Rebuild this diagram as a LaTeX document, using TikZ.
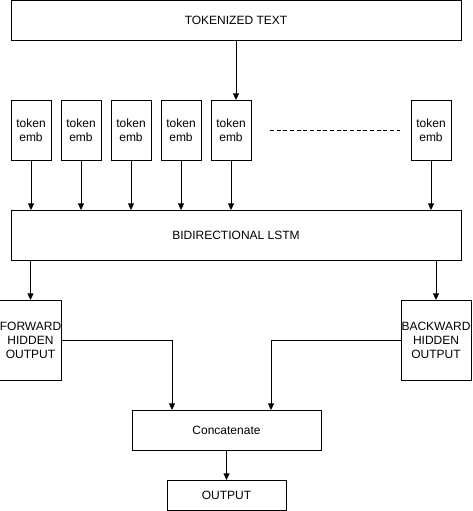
\documentclass[tikz,border=0pt]{standalone}
\usepackage{fontspec}
\setmainfont{Liberation Sans}
\usepackage{tikz}
\usetikzlibrary{positioning,arrows.meta}

\begin{document}
\begin{tikzpicture}[
    x=0.75pt, y=-0.75pt,
    line width=0.75pt,
    font=\fontsize{9}{10.5}\selectfont,
    base/.style = {rectangle, draw=black, inner sep=0pt, outer sep=0pt, align=center},
    wide/.style = {base, minimum width=337.5pt, minimum height=30pt},
    emb/.style = {base, minimum width=30pt, minimum height=45pt},
    hidden/.style = {base, minimum height=60pt},
    flow/.style = {-{Triangle[length=5pt,width=4.5pt]}},
]
    \useasboundingbox (0,0) rectangle (472,511);

    % input
    \node[wide] (tok) at (236,20) {TOKENIZED TEXT};

    % embeddings
    \node[emb] (emb1) at (31,130) {token\\emb};
    \node[emb, right=7.5pt of emb1] (emb2) {token\\emb};
    \node[emb, right=7.5pt of emb2] (emb3) {token\\emb};
    \node[emb, right=7.5pt of emb3] (emb4) {token\\emb};
    \node[emb, right=7.5pt of emb4] (emb5) {token\\emb};
    \node[emb] (embn) at (431,130) {token\\emb};
    \coordinate (dotsl) at (270,130);
    \coordinate (dotsr) at (400,130);
    \draw[dash pattern=on 3pt off 2pt] (dotsl) -- (dotsr);

    % lstm
    \node[wide, minimum height=37.5pt] (lstm) at (236,235) {BIDIRECTIONAL LSTM};

    % hidden outputs
    \node[hidden, minimum width=45.75pt] (fwd) at (30.5,340) {FORWARD\\HIDDEN\\OUTPUT};
    \node[hidden, minimum width=52.5pt] (bwd) at (436,340) {BACKWARD\\HIDDEN\\OUTPUT};

    % concat and output
    \node[base, minimum width=141.75pt, minimum height=30pt] (concat) at (226.5,430) {Concatenate};
    \node[base, minimum width=89.25pt, minimum height=22.5pt] (out) at (226.5,495) {OUTPUT};
    \coordinate (cin1) at (172,410);
    \coordinate (cin2) at (271,410);

    % flows
    \draw[flow] (tok.south) -- (tok.south |- emb5.north);
    \draw[flow] (emb1) -- (emb1 |- lstm.north);
    \draw[flow] (emb2) -- (emb2 |- lstm.north);
    \draw[flow] (emb3) -- (emb3 |- lstm.north);
    \draw[flow] (emb4) -- (emb4 |- lstm.north);
    \draw[flow] (emb5) -- (emb5 |- lstm.north);
    \draw[flow] (embn) -- (embn |- lstm.north);
    \draw[flow] (lstm.south -| fwd) -- (fwd.north);
    \draw[flow] (lstm.south -| bwd) -- (bwd.north);
    \draw[flow] (fwd.east) -| (cin1);
    \draw[flow] (bwd.west) -| (cin2);
    \draw[flow] (concat) -- (out);

\end{tikzpicture}
\end{document}
